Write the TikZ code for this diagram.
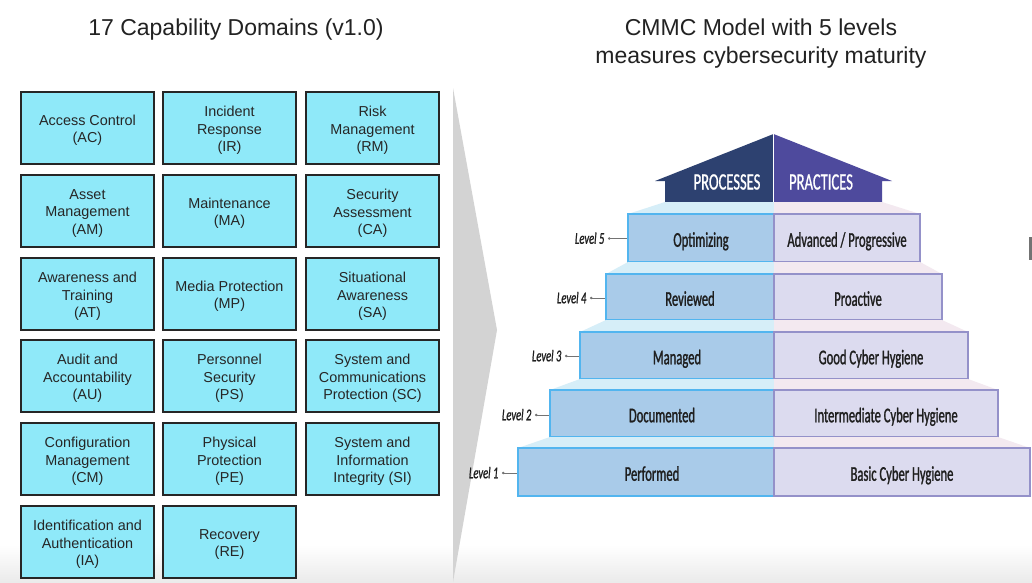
\documentclass[tikz,border=0pt]{standalone}
\usepackage{fontspec}
\setmainfont{Liberation Sans}
\newfontfamily\pyr[FakeStretch=0.6,FakeBold=1.2]{Carlito}
\newfontfamily\pyrlab[FakeStretch=0.64,FakeBold=1.0]{Carlito}
\newfontfamily\pyrroof[FakeStretch=0.62,FakeBold=0.8]{Carlito}
\usetikzlibrary{arrows.meta}
\definecolor{cyanbox}{HTML}{8FE9F9}
\definecolor{procfill}{HTML}{A9CBE9}
\definecolor{procline}{HTML}{52B5EF}
\definecolor{pracfill}{HTML}{DCDBEF}
\definecolor{pracline}{HTML}{9491C9}
\definecolor{proctopc}{HTML}{D6EEF8}
\definecolor{practopc}{HTML}{F3E9F0}
\definecolor{roofproc}{HTML}{2D4170}
\definecolor{roofprac}{HTML}{4E4A9D}
\definecolor{chevc}{HTML}{D3D3D3}
\definecolor{titlec}{HTML}{222222}
\newcommand\domnode[3]{%
  \node[dombox] (#1) at (#2) {};
  \node[domtext] (#1t) at ([yshift=-2.5pt]#1.center) {#3};}
\begin{document}
\begin{tikzpicture}[x=1pt,y=-1pt,
  dombox/.style={draw=black!85, line width=1.2pt, fill=cyanbox, minimum width=133pt,
    minimum height=72pt, inner sep=0pt},
  domtext/.style={inner sep=0pt, align=center,
    font=\fontsize{14.4}{17.5}\selectfont, text=black!85},
  titletext/.style={align=center, font=\fontsize{23}{28}\selectfont, text=titlec},
  procbox/.style={draw=procline, line width=1.3pt, fill=procfill, inner sep=0pt,
    font=\pyr\fontsize{21}{24}\selectfont, text=black!88, text height=17.5pt, text depth=0pt},
  pracbox/.style={draw=pracline, line width=1.3pt, fill=pracfill, inner sep=0pt,
    font=\pyr\fontsize{21}{24}\selectfont, text=black!88, text height=17.5pt, text depth=0pt},
  proctop/.style={fill=proctopc},
  practop/.style={fill=practopc},
  rooftext/.style={text=white, font=\pyrroof\fontsize{23.5}{26}\selectfont, inner sep=0pt,
    text height=15pt, text depth=0pt},
  lvltext/.style={font=\pyrlab\itshape\fontsize{16.5}{18}\selectfont, text=black!88,
    inner sep=1.5pt, text height=10.6pt, text depth=0pt},
  lvlline/.style={draw=black!55, line width=0.9pt, {Circle[length=2.4pt]}-, shorten <=2pt}
]
\useasboundingbox (0,0) rectangle (1032,582);
\fill[white] (0,0) rectangle (1032,582);
% bottom gray band
\shade[top color=white, bottom color=black!8] (0,545) rectangle (1032,582);
% chevron
\fill[chevc] (453,88) -- (497,330) -- (453,582) -- cycle;
% edge mark
\fill[black!55] (1029,237) rectangle (1032,260);

% titles
\node[titletext] (lefttitle) at (236,30) {17 Capability Domains (v1.0)};
\node[titletext] (righttitle) at (761,44) {CMMC Model with 5 levels\\measures cybersecurity maturity};

% domain grid
\domnode{ac}{87.5,128}{Access Control\\(AC)}
\domnode{ir}{229.5,128}{Incident\\Response\\(IR)}
\domnode{rm}{372.5,128}{Risk\\Management\\(RM)}
\domnode{am}{87.5,211}{Asset\\Management\\(AM)}
\domnode{ma}{229.5,211}{Maintenance\\(MA)}
\domnode{ca}{372.5,211}{Security\\Assessment\\(CA)}
\domnode{at}{87.5,294}{Awareness and\\Training\\(AT)}
\domnode{mp}{229.5,294}{Media Protection\\(MP)}
\domnode{sa}{372.5,294}{Situational\\Awareness\\(SA)}
\domnode{au}{87.5,376}{Audit and\\Accountability\\(AU)}
\domnode{ps}{229.5,376}{Personnel\\Security\\(PS)}
\domnode{sc}{372.5,376}{System and\\Communications\\Protection (SC)}
\domnode{cm}{87.5,459}{Configuration\\Management\\(CM)}
\domnode{pe}{229.5,459}{Physical\\Protection\\(PE)}
\domnode{si}{372.5,459}{System and\\Information\\Integrity (SI)}
\domnode{ia}{87.5,542}{Identification and\\Authentication\\(IA)}
\domnode{re}{229.5,542}{Recovery\\(RE)}

% roof
\fill[roofproc] (655,181) -- (665,181) -- (665,202) -- (773.5,202) -- (773.5,134) -- cycle;
\fill[roofprac] (773.5,134) -- (892,181) -- (882,181) -- (882,202) -- (773.5,202) -- cycle;
\draw[white, line width=0.8pt] (773.5,134) -- (773.5,202);
\node[rooftext] (processes) at (727,182) {PROCESSES};
\node[rooftext] (practices) at (821,182) {PRACTICES};

% level 5
\fill[proctop] (665,202) -- (774,202) -- (774,214) -- (628,214) -- cycle;
\fill[practop] (774,202) -- (882,202) -- (920,214) -- (774,214) -- cycle;
\node[procbox, minimum width=146pt, minimum height=48pt] (p5) at (701,238) {Optimizing};
\node[pracbox, minimum width=146pt, minimum height=48pt] (r5) at (847,238) {Advanced / Progressive};
\node[lvltext, anchor=east] (l5) at (606,238.5) {Level 5};
\draw[lvlline] (l5.east) -- (l5.east -| p5.west);

% level 4
\fill[proctop] (628,262) -- (774,262) -- (774,274) -- (606,274) -- cycle;
\fill[practop] (774,262) -- (920,262) -- (942,274) -- (774,274) -- cycle;
\node[procbox, minimum width=168pt, minimum height=46pt] (p4) at (690,297) {Reviewed};
\node[pracbox, minimum width=168pt, minimum height=46pt] (r4) at (858,297) {Proactive};
\node[lvltext, anchor=east] (l4) at (588,298) {Level 4};
\draw[lvlline] (l4.east) -- (l4.east -| p4.west);

% level 3
\fill[proctop] (606,320) -- (774,320) -- (774,332) -- (580,332) -- cycle;
\fill[practop] (774,320) -- (942,320) -- (968,332) -- (774,332) -- cycle;
\node[procbox, minimum width=194pt, minimum height=47pt] (p3) at (677,355.5) {Managed};
\node[pracbox, minimum width=194pt, minimum height=47pt] (r3) at (871,355.5) {Good Cyber Hygiene};
\node[lvltext, anchor=east] (l3) at (563,356) {Level 3};
\draw[lvlline] (l3.east) -- (l3.east -| p3.west);

% level 2
\fill[proctop] (580,379) -- (774,379) -- (774,390) -- (550,390) -- cycle;
\fill[practop] (774,379) -- (968,379) -- (998,390) -- (774,390) -- cycle;
\node[procbox, minimum width=224pt, minimum height=47pt] (p2) at (662,413.5) {Documented};
\node[pracbox, minimum width=224pt, minimum height=47pt] (r2) at (886,413.5) {Intermediate Cyber Hygiene};
\node[lvltext, anchor=east] (l2) at (533,415) {Level 2};
\draw[lvlline] (l2.east) -- (l2.east -| p2.west);

% level 1
\fill[proctop] (550,437) -- (774,437) -- (774,448) -- (518,448) -- cycle;
\fill[practop] (774,437) -- (998,437) -- (1030,448) -- (774,448) -- cycle;
\node[procbox, minimum width=256pt, minimum height=48pt] (p1) at (646,472) {\hspace*{12pt}Performed};
\node[pracbox, minimum width=256pt, minimum height=48pt] (r1) at (902,472) {Basic Cyber Hygiene};
\node[lvltext, anchor=east] (l1) at (500,473) {Level 1};
\draw[lvlline] (l1.east) -- (l1.east -| p1.west);
\end{tikzpicture}
\end{document}
